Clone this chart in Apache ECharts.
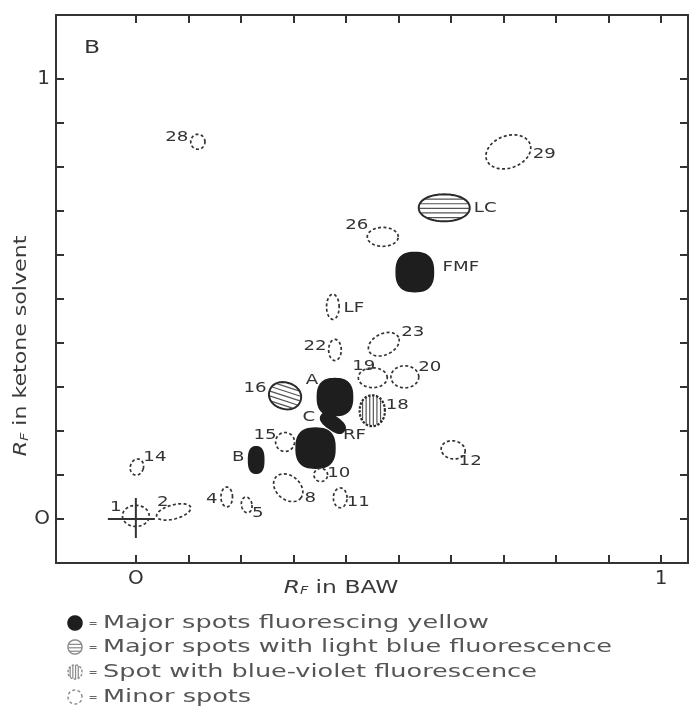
<!DOCTYPE html>
<html><head><meta charset="utf-8">
<script src="https://cdn.jsdelivr.net/npm/echarts@6/dist/echarts.min.js"></script>
<style>html,body{margin:0;padding:0;background:#fff}#c{width:692px;height:707px}</style>
</head><body><div id="c"></div>
<script>
// ---------------- DATA (Rf values) ----------------
const spotNames   = ['1','2','4','5','14','B','15','RF','C','A','16','10','8','11','22','LF','19','20','23','18','12','26','FMF','LC','29','28'];
const spotRfBAW   = [0.000,0.072,0.173,0.211,0.002,0.229,0.284,0.342,0.375,0.379,0.284,0.352,0.290,0.389,0.379,0.375,0.451,0.512,0.472,0.450,0.604,0.470,0.531,0.587,0.709,0.118];
const spotRfKetone= [0.007,0.016,0.050,0.032,0.118,0.134,0.175,0.161,0.218,0.277,0.280,0.100,0.071,0.048,0.384,0.482,0.321,0.323,0.397,0.246,0.157,0.641,0.561,0.707,0.834,0.857];
const spotWidth   = [0.051,0.067,0.022,0.020,0.025,0.029,0.036,0.074,0.052,0.067,0.062,0.026,0.062,0.026,0.024,0.024,0.055,0.053,0.062,0.048,0.046,0.059,0.071,0.097,0.088,0.027];
const spotHeight  = [0.048,0.032,0.045,0.036,0.037,0.060,0.043,0.091,0.030,0.084,0.060,0.030,0.054,0.045,0.048,0.057,0.045,0.050,0.048,0.070,0.041,0.043,0.089,0.061,0.073,0.034];
const spotTilt    = [0,15,0,10,-15,0,-20,0,-35,0,-18,0,-40,0,0,0,0,0,25,0,-10,0,0,0,20,0];
const spotKind    = ['minor','minor','minor','minor','minor','yellow','minor','yellow','yellow','yellow','lightblue','minor','minor','minor','minor','minor','minor','minor','minor','violet','minor','minor','yellow','lightblue','minor','minor'];
const originPoint = [0, 0];
const tickValues  = [0,0.1,0.2,0.3,0.4,0.5,0.6,0.7,0.8,0.9,1];
const tickLabelValues = [0, 1];
const tickLabelTexts  = ['O', '1'];
const legendKinds = ['yellow','lightblue','violet','minor'];
const legendTexts = ['Major spots fluorescing yellow','Major spots with light blue fluorescence','Spot with blue-violet fluorescence','Minor spots'];
const panelLetter = 'B';

// ---------------- STYLE / LAYOUT ----------------
const FONT = '"DejaVu Sans", sans-serif';
const INK = '#2a2a2a';
const TXT = '#333';
const SX = 1.3;
const LABEL_OFFSET = {'1':[-20,-9],'2':[-11,-10],'4':[-15,2],'5':[11,8],'14':[18,-10],'B':[-18,-3],'15':[-20,-7],'RF':[39,-13],'C':[-24,-6],'A':[-23,-17],'16':[-30,-7],'10':[18,-2],'8':[22,11],'11':[18,5],'22':[-20,-4],'LF':[21,2],'19':[-9,-11],'20':[25,-9],'23':[29,-12],'18':[25,-5],'12':[17,11],'26':[-26,-11],'FMF':[46,-5],'LC':[41,1],'29':[36,2],'28':[-21,-4]};

function toScreen(cx, cy, u, v, tiltDeg) {
  const th = tiltDeg * Math.PI / 180, c = Math.cos(th), s = Math.sin(th);
  return [cx + u * c - v * s, cy - (u * s + v * c)];
}
function shapePoints(cx, cy, rx, ry, tiltDeg, n, k) {
  const pts = [];
  for (let i = 0; i < k; i++) {
    const t = i / k * Math.PI * 2;
    const ct = Math.cos(t), st = Math.sin(t);
    const u = rx * Math.sign(ct) * Math.pow(Math.abs(ct), 2 / n);
    const v = ry * Math.sign(st) * Math.pow(Math.abs(st), 2 / n);
    pts.push(toScreen(cx, cy, u, v, tiltDeg));
  }
  return pts;
}
function hatch(cx, cy, rx, ry, tilt, vertical, gap, color) {
  const out = [];
  if (!vertical) {
    for (let v = -ry + gap * 0.8; v < ry - gap * 0.4; v += gap) {
      const hw = rx * Math.sqrt(Math.max(0, 1 - (v / ry) * (v / ry))) * 0.97;
      const a = toScreen(cx, cy, -hw, v, tilt), b = toScreen(cx, cy, hw, v, tilt);
      out.push({type:'line', shape:{x1:a[0],y1:a[1],x2:b[0],y2:b[1]}, style:{stroke:color, lineWidth:1.2}});
    }
  } else {
    for (let u = -rx + gap * 0.8; u < rx - gap * 0.4; u += gap) {
      const hh = ry * Math.sqrt(Math.max(0, 1 - (u / rx) * (u / rx))) * 0.97;
      const a = toScreen(cx, cy, u, -hh, tilt), b = toScreen(cx, cy, u, hh, tilt);
      out.push({type:'line', shape:{x1:a[0],y1:a[1],x2:b[0],y2:b[1]}, style:{stroke:color, lineWidth:1.2}});
    }
  }
  return out;
}
function drawSpot(kind, cx, cy, rx, ry, tilt, scale, roundness) {
  const children = [];
  if (kind === 'yellow') {
    children.push({type:'polygon', shape:{points:shapePoints(cx,cy,rx,ry,tilt,roundness || 2.6,64)}, style:{fill:'#1e1e1e', stroke:'#1e1e1e', lineWidth:1.5}});
  } else if (kind === 'lightblue') {
    children.push(...hatch(cx,cy,rx,ry,tilt,false,4.6*scale,'#555'));
    children.push({type:'polygon', shape:{points:shapePoints(cx,cy,rx,ry,tilt,2.1,64)}, style:{fill:null, stroke:INK, lineWidth:2}});
  } else if (kind === 'violet') {
    children.push(...hatch(cx,cy,rx,ry,tilt,true,3.6*scale,'#555'));
    children.push({type:'polygon', shape:{points:shapePoints(cx,cy,rx,ry,tilt,2.1,64)}, style:{fill:null, stroke:INK, lineWidth:2.2, lineDash:[2.5,1.5]}});
  } else {
    children.push({type:'polygon', shape:{points:shapePoints(cx,cy,rx,ry,tilt,2,64)}, style:{fill:null, stroke:'#333', lineWidth:1.7, lineDash:[3,2.4]}});
  }
  return children;
}

const spotData = spotNames.map((n, i) => [spotRfBAW[i], spotRfKetone[i], spotWidth[i], spotHeight[i], spotTilt[i]]);

function renderSpot(params, api) {
  const i = params.dataIndex;
  const c = api.coord([api.value(0), api.value(1)]);
  const sz = api.size([api.value(2), api.value(3)]);
  const children = drawSpot(spotKind[i], c[0], c[1], sz[0] / 2, sz[1] / 2, api.value(4), 1);
  const off = LABEL_OFFSET[spotNames[i]] || [15, 0];
  children.push({type:'text', x:c[0] + off[0], y:c[1] + off[1], scaleX:SX,
    style:{text:spotNames[i], font:'14px ' + FONT, fill:TXT, align:'center', verticalAlign:'middle'}});
  return {type:'group', children};
}
function renderOrigin(params, api) {
  const c = api.coord([api.value(0), api.value(1)]);
  const st = {stroke:'#333', lineWidth:2};
  return {type:'group', children:[
    {type:'line', shape:{x1:c[0]-28,y1:c[1],x2:c[0]+19,y2:c[1]}, style:st},
    {type:'line', shape:{x1:c[0],y1:c[1]-21,x2:c[0],y2:c[1]+19}, style:st}
  ]};
}

const axisCommon = (pos, showLabel) => ({
  type:'value', position:pos,
  axisLine:{show:true, onZero:false, lineStyle:{color:'#333', width:2}},
  axisTick:{show:true, inside:true, length:8, customValues:tickValues, lineStyle:{color:'#333', width:2}},
  axisLabel:showLabel ? {show:true, customValues:tickLabelValues, margin:6, fontSize:20, fontFamily:FONT, color:'#333',
    formatter:v => tickLabelTexts[tickLabelValues.indexOf(Math.round(v * 10) / 10)] ?? ''} : {show:false},
  splitLine:{show:false}
});

// legend graphics
const legendGraphics = [];
const legendY = [623, 647, 672, 697];
legendKinds.forEach((k, i) => {
  const cy = legendY[i], cx = 75, r = 7;
  const ch = drawSpot(k, cx, cy, r, r, 0, 0.75, 2);
  if (k !== 'yellow') ch.forEach(e => { if (e.style.stroke) e.style.stroke = '#888'; if (e.style.lineWidth > 1.3) e.style.lineWidth = 1.4; });
  legendGraphics.push({type:'group', children:ch});
  legendGraphics.push({type:'text', x:93, y:cy + 1, style:{text:'=', font:'11px ' + FONT, fill:'#666', align:'center', verticalAlign:'middle'}});
  legendGraphics.push({type:'text', x:103, y:cy, scaleX:1.42, style:{text:legendTexts[i], font:'18px ' + FONT, fill:'#555', align:'left', verticalAlign:'middle'}});
});

const chart = echarts.init(document.getElementById('c'), null, {renderer:'canvas'});
chart.setOption({
  animation:false,
  backgroundColor:'#fff',
  grid:{left:56, right:4, top:15, bottom:144, containLabel:false},
  xAxis:[Object.assign(axisCommon('bottom', true), {min:-0.152, max:1.051}),
         Object.assign(axisCommon('top', false), {min:-0.152, max:1.051})],
  yAxis:[Object.assign(axisCommon('left', true), {min:-0.1, max:1.145}),
         Object.assign(axisCommon('right', false), {min:-0.1, max:1.145})],
  series:[
    {type:'custom', renderItem:renderOrigin, data:[originPoint], xAxisIndex:0, yAxisIndex:0, z:3},
    {type:'custom', renderItem:renderSpot, data:spotData, xAxisIndex:0, yAxisIndex:0, z:4}
  ],
  graphic:[
    {type:'text', x:92, y:48, scaleX:SX, style:{text:panelLetter, font:'18px ' + FONT, fill:'#333', align:'center', verticalAlign:'middle'}},
    {type:'text', x:22, y:346, rotation:Math.PI/2, scaleX:SX,
      style:{text:'{r|R}{f|F}{n| in ketone solvent}', align:'center', verticalAlign:'middle', fill:'#3a3a3a',
        rich:{r:{fontFamily:FONT, fontSize:17, fontStyle:'italic', fill:'#3a3a3a'}, f:{fontFamily:FONT, fontSize:11, fontStyle:'italic', verticalAlign:'bottom', fill:'#3a3a3a'}, n:{fontFamily:FONT, fontSize:17, fill:'#3a3a3a'}}}},
    {type:'text', x:341, y:588, scaleX:SX,
      style:{text:'{r|R}{f|F}{n| in BAW}', align:'center', verticalAlign:'middle', fill:'#3a3a3a',
        rich:{r:{fontFamily:FONT, fontSize:18, fontStyle:'italic', fill:'#3a3a3a'}, f:{fontFamily:FONT, fontSize:11, fontStyle:'italic', verticalAlign:'bottom', fill:'#3a3a3a'}, n:{fontFamily:FONT, fontSize:18, fill:'#3a3a3a'}}}},
    ...legendGraphics
  ]
});
</script></body></html>
